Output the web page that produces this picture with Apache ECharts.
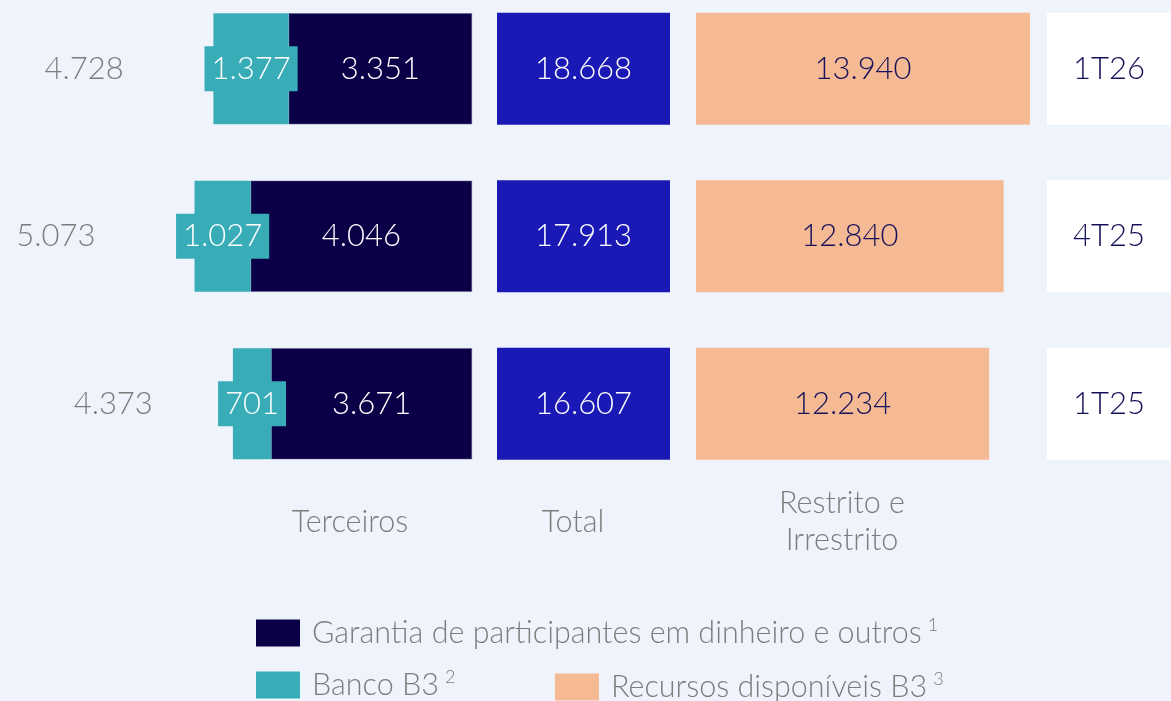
<!DOCTYPE html>
<html>
<head>
<meta charset="utf-8">
<script src="https://cdn.jsdelivr.net/npm/echarts@6/dist/echarts.min.js"></script>
<style>
  html, body { margin: 0; padding: 0; background: #eff4fc; }
  #chart { width: 1171px; height: 701px; }
</style>
</head>
<body>
<div id="chart"></div>
<script>
// Data
const categories = ['1T26', '4T25', '1T25'];
const garantia = [3351, 4046, 3671];
const bancoB3 = [1377, 1027, 701];
const terceiros = [4728, 5073, 4373];
const totals = [18668, 17913, 16607];
const recursos = [13940, 12840, 12234];
const columnTitles = ['Terceiros', 'Total', 'Restrito e\nIrrestrito'];
const seriesNames = ['Garantia de participantes em dinheiro e outros', 'Banco B3', 'Recursos disponíveis B3'];
const footnotes = ['1', '2', '3'];

const FONT = 'Lato, "Noto Sans", sans-serif';
const GREY = '#7c7c7c';
const NAVY_TEXT = '#14105a';

// 1.234 style thousands separator
function fmt(v) {
    return String(v).replace(/\B(?=(\d{3})+(?!\d))/g, '.');
}

const chart = echarts.init(document.getElementById('chart'));

// all grids share the same row bands
const rowGrid = { top: -15, height: 502.5, outerBoundsMode: 'none' };
const grids = [
    Object.assign({ left: 0, width: 472 }, rowGrid),
    Object.assign({ left: 497, width: 173 }, rowGrid),
    Object.assign({ left: 696, width: 359.4 }, rowGrid),
    Object.assign({ left: 1047, width: 124 }, rowGrid)
];

const xMax = [8630, 1, 15000, 1];

const numLabel = {
    show: true,
    position: 'inside',
    fontSize: 31,
    fontWeight: 300,
    fontFamily: FONT
};

// box drawn over a whole grid width, used for the Total column and row labels
function boxRenderer(fill, textColor, textOf) {
    return function (params, api) {
        const cs = params.coordSys;
        const y = api.coord([0, api.value(1)])[1];
        const h = 112;
        return {
            type: 'group',
            children: [{
                type: 'rect',
                shape: { x: cs.x, y: y - h / 2, width: cs.width, height: h },
                style: { fill: fill }
            }, {
                type: 'text',
                style: {
                    text: textOf(params.dataIndex),
                    x: cs.x + cs.width / 2,
                    y: y,
                    align: 'center',
                    verticalAlign: 'middle',
                    fill: textColor,
                    font: '300 31px ' + FONT
                }
            }]
        };
    };
}

const option = {
    backgroundColor: '#eff4fc',
    animation: false,
    grid: grids,
    xAxis: grids.map((g, i) => ({
        gridIndex: i,
        type: 'value',
        min: 0,
        max: xMax[i],
        inverse: i === 0,
        show: false
    })),
    yAxis: grids.map((g, i) => ({
        gridIndex: i,
        type: 'category',
        data: categories,
        inverse: true,
        show: false
    })),
    legend: [0, 1, 2].map(i => ({
        data: [seriesNames[i]],
        left: [251, 251, 550][i],
        top: [611, 663, 665][i],
        itemWidth: 44,
        itemHeight: 27,
        icon: 'rect',
        selectedMode: false,
        itemStyle: { borderWidth: 0 },
        formatter: name => '{n|' + name + '}{s|' + footnotes[i] + '}',
        textStyle: {
            color: GREY,
            rich: {
                n: { fontSize: 30.5, fontWeight: 300, fontFamily: FONT, color: GREY, padding: [0, 6, 0, 7], lineHeight: 34 },
                s: { fontSize: 18, fontWeight: 300, fontFamily: FONT, color: GREY, verticalAlign: 'top', lineHeight: 18 }
            }
        }
    })),
    graphic: columnTitles.map((t, i) => ({
        type: 'text',
        x: [350, 573, 842][i],
        y: 522,
        style: {
            text: t,
            align: 'center',
            verticalAlign: 'middle',
            lineHeight: 37,
            fill: GREY,
            font: '300 30.5px ' + FONT
        }
    })),
    series: [{
        name: seriesNames[0],
        type: 'bar',
        xAxisIndex: 0,
        yAxisIndex: 0,
        stack: 'terceiros',
        barWidth: 111,
        data: garantia,
        itemStyle: { color: '#0b0047', borderColor: '#5a5a8a', borderWidth: 0.5 },
        label: Object.assign({}, numLabel, {
            color: '#ffffff',
            formatter: p => fmt(p.value)
        })
    }, {
        name: seriesNames[1],
        type: 'bar',
        xAxisIndex: 0,
        yAxisIndex: 0,
        stack: 'terceiros',
        barWidth: 111,
        data: bancoB3,
        itemStyle: { color: '#38adb8' },
        label: Object.assign({}, numLabel, {
            color: '#ffffff',
            backgroundColor: '#38adb8',
            padding: [7, 7],
            formatter: p => fmt(p.value)
        })
    }, {
        // grey totals left of the Terceiros bars
        type: 'scatter',
        xAxisIndex: 0,
        yAxisIndex: 0,
        symbolSize: 1,
        itemStyle: { color: 'rgba(0,0,0,0)', opacity: 1 },
        data: terceiros.map((v, i) => [v * 1.5, i]),
        label: Object.assign({}, numLabel, {
            color: GREY,
            formatter: p => fmt(terceiros[p.dataIndex])
        })
    }, {
        name: 'Total',
        type: 'custom',
        xAxisIndex: 1,
        yAxisIndex: 1,
        data: totals.map((v, i) => [v, i]),
        renderItem: boxRenderer('#1a19b5', '#ffffff', i => fmt(totals[i]))
    }, {
        name: seriesNames[2],
        type: 'bar',
        xAxisIndex: 2,
        yAxisIndex: 2,
        barWidth: 112,
        data: recursos,
        itemStyle: { color: '#f5b994' },
        label: Object.assign({}, numLabel, {
            color: NAVY_TEXT,
            formatter: p => fmt(p.value)
        })
    }, {
        type: 'custom',
        xAxisIndex: 3,
        yAxisIndex: 3,
        data: categories.map((c, i) => [0, i]),
        renderItem: boxRenderer('#ffffff', NAVY_TEXT, i => categories[i])
    }]
};

chart.setOption(option);
</script>
</body>
</html>
